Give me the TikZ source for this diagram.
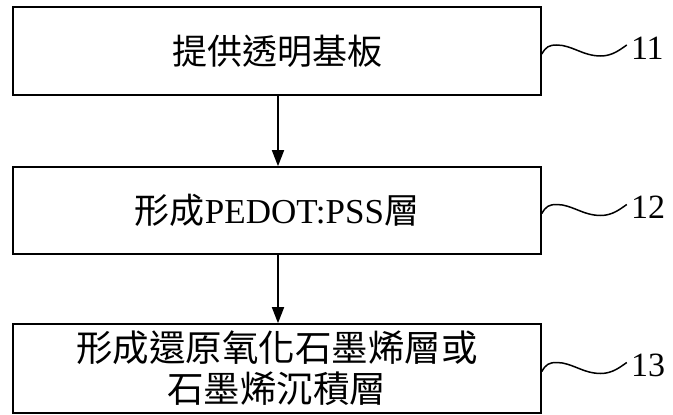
\documentclass[tikz,border=0pt]{standalone}
\usepackage{fontspec}
\setmainfont{Liberation Serif}
\newfontfamily\cjk{Noto Sans CJK TC}
\usetikzlibrary{arrows.meta,calc}
\begin{document}
\begin{tikzpicture}[x=1pt,y=-1pt,
  stepbox/.style={draw, line width=1.6pt, minimum width=528pt, inner sep=0pt, align=center,
    font=\fontsize{35}{41}\selectfont},
  flow/.style={line width=1.6pt, -{Triangle[length=16pt,width=12pt]}},
  wave/.style={line width=1.5pt},
  reflabel/.style={anchor=west, inner sep=0pt, font=\fontsize{34}{38}\selectfont}]
\useasboundingbox (0,0) rectangle (673,415);
\node[stepbox, minimum height=88pt] (b1) at (277,51) {\cjk 提供透明基板};
\node[stepbox, minimum height=87pt] (b2) at (277,210.5) {{\cjk 形成}PEDOT:PSS{\cjk 層}};
\node[stepbox, minimum height=89pt, font=\fontsize{36.5}{41}\selectfont] (b3) at (277,368.5) {\cjk 形成還原氧化石墨烯層或\\\cjk 石墨烯沉積層};
\draw[flow] (b1.south -| 278,0) -- (b2.north -| 278,0);
\draw[flow] (b2.south -| 278,0) -- (b3.north -| 278,0);
\foreach \b/\t in {b1/11,b2/12,b3/13}{
  \coordinate (s\b) at ($(\b.east)+(0,3)$);
  \node[reflabel] (l\b) at ($(\b.east)+(89,-3)$) {\t};
  \draw[wave] (s\b) .. controls +(4,-7) and +(-8,0) .. ($(s\b)+(15,-9)$)
     .. controls +(15,0) and +(-18,0) .. ($(s\b)+(59,2)$)
     .. controls +(12,0) and +(-6,4) .. ($(s\b)+(85,-9)$);
}
\end{tikzpicture}
\end{document}
